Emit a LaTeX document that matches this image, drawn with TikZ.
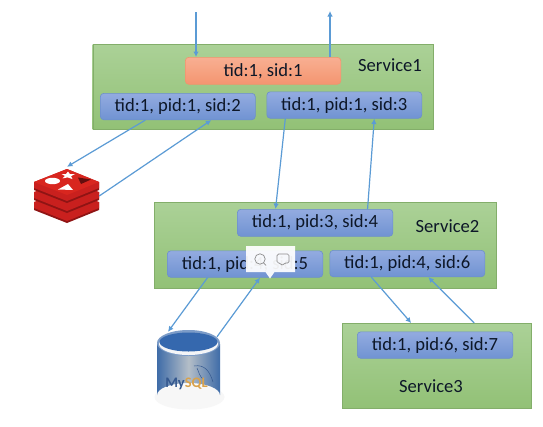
\documentclass[tikz,border=0pt]{standalone}
\usepackage{fontspec}
\setmainfont{Carlito}
\usetikzlibrary{arrows.meta,positioning}
\definecolor{flow}{HTML}{5B9BD5}
\definecolor{txt}{HTML}{0D1728}
\definecolor{SvcA}{HTML}{ABD197}
\definecolor{SvcB}{HTML}{92C176}
\definecolor{SpanA}{HTML}{93ABE0}
\definecolor{SpanB}{HTML}{7093D2}
\definecolor{SpanE}{HTML}{6C8FCB}
\definecolor{RootA}{HTML}{F8AF92}
\definecolor{RootB}{HTML}{F49570}
\definecolor{RootE}{HTML}{F0946C}
\definecolor{RedA}{HTML}{C9201E}
\definecolor{RedD}{HTML}{8F1414}
\definecolor{RedT}{HTML}{D8261F}
\definecolor{CylA}{HTML}{3F6CA8}
\definecolor{CylB}{HTML}{B4BEC8}
\definecolor{CylTop}{HTML}{7C9CC8}
\definecolor{CylIn}{HTML}{3568AE}
\definecolor{CylDk}{HTML}{34588F}
\definecolor{MyOr}{HTML}{D9A24C}
\tikzset{
  x=1pt,y=-1pt,
  svcbox/.style={rectangle,anchor=north west,inner sep=0pt,draw=SvcB!90!black,line width=.4pt,top color=SvcA,bottom color=SvcB},
  span/.style={rectangle,rounded corners=3.5pt,anchor=north west,inner sep=0pt,draw=SpanE,line width=.6pt,top color=SpanA,bottom color=SpanB,text=txt,font=\fontsize{18.6}{20}\selectfont},
  rootspan/.style={span,draw=RootE,top color=RootA,bottom color=RootB},
  svclabel/.style={text=txt,inner sep=0pt,font=\fontsize{18.6}{20}\selectfont},
  flowline/.style={draw=flow,line width=1.2pt,-{Latex[length=5.5pt,width=5.5pt]}},
}
\begin{document}
\begin{tikzpicture}
\useasboundingbox (0,0) rectangle (543,426);
\fill[white] (0,0) rectangle (543,426);

% service boxes
\node[svcbox,minimum width=340.5pt,minimum height=85pt] (s1) at (92.5,44) {};
\node[svcbox,minimum width=341.5pt,minimum height=86pt] (s2) at (154,202) {};
\node[svcbox,minimum width=189pt,minimum height=85pt] (s3) at (342,323) {};

% spans
\node[rootspan,minimum width=155.5pt,minimum height=27pt] (root) at (185,57) {tid:1, sid:1};
\node[span,minimum width=155pt,minimum height=26.5pt] (a) at (100,93) {tid:1, pid:1, sid:2};
\node[span,minimum width=155pt,minimum height=26.5pt] (b) at (266.5,91.5) {tid:1, pid:1, sid:3};
\node[span,minimum width=155.5pt,minimum height=27pt] (c) at (237,209) {tid:1, pid:3, sid:4};
\node[span,minimum width=155.5pt,minimum height=26.5pt] (d) at (167,250.5) {tid:1, pid:4, sid:5};
\node[span,minimum width=155pt,minimum height=26.5pt] (e) at (329.5,250) {tid:1, pid:4, sid:6};
\node[span,minimum width=155.5pt,minimum height=26.5pt] (f) at (357,331.5) {tid:1, pid:6, sid:7};

% service labels
\node[svclabel] (l1) at (390,65) {Service1};
\node[svclabel] (l2) at (447.5,226.5) {Service2};
\node[svclabel] (l3) at (431,386.5) {Service3};

% redis logo
\foreach \dy in {20,10,0}{
  \fill[RedD] (34,{182+\dy}) -- (67,{195+\dy}) -- (99,{182+\dy}) -- (99,{190+\dy}) -- (67,{203+\dy}) -- (34,{190+\dy}) -- cycle;
  \fill[RedA] (34,{182+\dy}) -- (67,{169+\dy}) -- (99,{182+\dy}) -- (99,{188+\dy}) -- (67,{201+\dy}) -- (34,{188+\dy}) -- cycle;
}
\fill[RedT] (34,182) -- (67,169) -- (99,182) -- (67,195) -- cycle;
\fill[white] (52.5,181) ellipse (7.5pt and 3.2pt);
\fill[white] (58,189.5) -- (68,184) -- (73,190) -- cycle;
\fill[white] (68,171.5) -- (69.8,174) -- (75,174) -- (71,176.2) -- (72.5,179) -- (67.5,177.4) -- (62.5,178.4) -- (65,176) -- (61.5,174) -- (66,174) -- cycle;
\fill[RedD!70!black] (78,177.5) -- (91,179.5) -- (81,184) -- cycle;
\node[inner sep=0pt,minimum width=65pt,minimum height=54pt] (redis) at (66.5,196) {};

% mysql cylinder
\fill[black!15,opacity=.2] (189.5,397) ellipse (35pt and 12.5pt);
\path[left color=CylA,right color=CylA,middle color=CylB]
  (157,344) -- (157,395) arc[start angle=180,end angle=0,x radius=31.5pt,y radius=12pt] -- (220,344) -- cycle;
\fill[CylTop] (188.5,343) ellipse (31.5pt and 13pt);
\fill[white!85!CylB] (188.5,344) ellipse (29.5pt and 11pt);
\fill[CylIn] (188.5,342) ellipse (29pt and 9.5pt);
\node[inner sep=0pt,minimum width=64pt,minimum height=78pt] (mysql) at (188.5,369) {};
\draw[CylDk,line width=.5pt] (194,366) .. controls (205,364) and (210,372) .. (213,382);
\draw[CylDk,line width=.5pt] (197,368) .. controls (199,372) and (199,376) .. (204,380);
\node[inner sep=0pt,font=\fontsize{14.5}{15}\selectfont\bfseries] (mylabel) at (186.5,384)
  {\textcolor{CylDk}{My}\textcolor{MyOr}{SQL}};

% connectors
\coordinate (inTop) at (196,12);
\coordinate (outTop) at (330,11);
\draw[flowline] (inTop) -- (inTop |- root.north);
\draw[flowline] (outTop |- root.north) -- (outTop);
\draw[flowline] ([xshift=-32.5pt]a.south) -- ([xshift=0.5pt,yshift=2pt]redis.north);
\draw[flowline] (redis.east) -- ([xshift=33.5pt]a.south);
\draw[flowline] ([xshift=-59pt]b.south) -- ([xshift=-39.5pt]c.north);
\draw[flowline] ([xshift=52.5pt]c.north) -- ([xshift=30pt]b.south);
\draw[flowline] ([xshift=-37.5pt]d.south) -- ([xshift=-20.5pt,yshift=-2pt]mysql.north);
\draw[flowline] ([xshift=28.5pt,yshift=-7pt]mysql.north) -- ([xshift=15pt]d.south);
\draw[flowline] ([xshift=-36pt]e.south) -- ([xshift=-25.5pt]s3.north);
\draw[flowline] ([xshift=37.5pt]s3.north) -- ([xshift=21pt]e.south);

% popup toolbar
\fill[white,opacity=.93] (246,246) -- (295,246) -- (295,272) -- (274.5,272) -- (270,278.5) -- (265.5,272) -- (246,272) -- cycle;
\node[inner sep=0pt,minimum width=49pt,minimum height=26pt] (popup) at (270.5,259) {};
\draw[black!45,line width=.7pt] (260,259) circle (5.2pt);
\draw[black!45,line width=.7pt] (263.6,263) -- (266,265.5);
\draw[black!45,line width=.7pt,rounded corners=1.5pt] (277,254) -- (289,254) -- (289,263) -- (284.5,263) -- (282,266) -- (280.5,263) -- (277,263) -- cycle;
\end{tikzpicture}
\end{document}
